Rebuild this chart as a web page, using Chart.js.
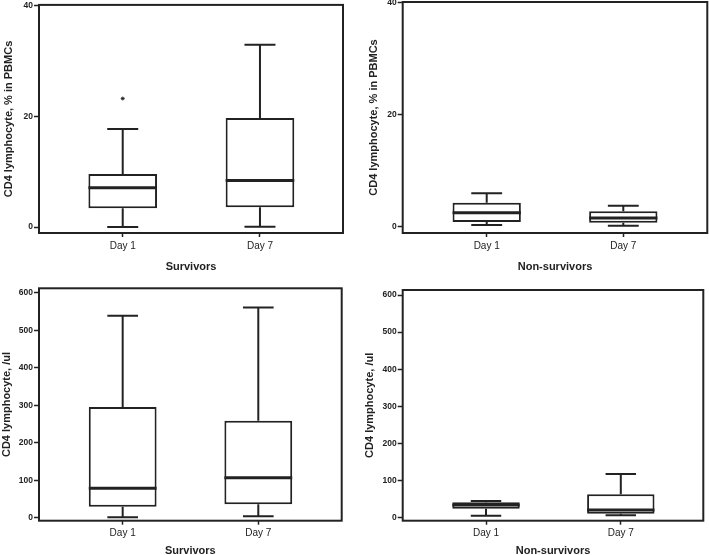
<!DOCTYPE html>
<html><head><meta charset="utf-8">
<script src="https://cdn.jsdelivr.net/npm/chart.js@4.4.1/dist/chart.umd.min.js"></script>
<style>
html,body{margin:0;padding:0;background:#fff;overflow:hidden;width:709px;height:555px;}
.p{position:absolute;}
</style></head><body>
<div class="p" style="left:0px;top:0px;width:350px;height:275px"><canvas id="c1"></canvas></div>
<div class="p" style="left:350px;top:0px;width:359px;height:275px"><canvas id="c2"></canvas></div>
<div class="p" style="left:0px;top:275px;width:350px;height:283px"><canvas id="c3"></canvas></div>
<div class="p" style="left:350px;top:275px;width:359px;height:283px"><canvas id="c4"></canvas></div>
<script>
const categories = ['Day 1', 'Day 7'];
// five-number summaries per category: [min, Q1, median, Q3, max]
const survivorsPctBox = [[0.0, 3.4, 7.1, 9.6, 17.7], [0.05, 3.6, 8.4, 19.7, 32.9]];
const survivorsPctOutliers = [[23.2], []];
const nonSurvivorsPctBox = [[0.36, 0.89, 2.55, 4.3, 6.0], [0.24, 0.77, 1.6, 2.8, 3.8]];
const nonSurvivorsPctOutliers = [[], []];
const survivorsCountBox = [[1.3, 29.6, 78.6, 296, 539], [4, 36, 107, 259, 561]];
const survivorsCountOutliers = [[], []];
const nonSurvivorsCountBox = [[5.4, 24.3, 34.2, 41.4, 45], [6.3, 10.8, 20.7, 63, 117.7]];
const nonSurvivorsCountOutliers = [[], []];
const pctTicks = [0, 20, 40];
const countTicks = [0, 100, 200, 300, 400, 500, 600];

const INK = '#222';
const FONT = "'Liberation Sans', Arial, Helvetica, sans-serif";

function makePanel(id, box, outliers, ticks, yTitle, xTitle, g) {
  const partsPlugin = {
    id: 'boxparts',
    afterDatasetsDraw(chart) {
      const xs = chart.scales.x, ys = chart.scales.y, ctx = chart.ctx;
      ctx.save();
      ctx.strokeStyle = INK;
      box.forEach((b, i) => {
        const cx = xs.getPixelForValue(i);
        const capL = xs.getPixelForValue(i - 0.113), capR = xs.getPixelForValue(i + 0.113);
        const boxL = xs.getPixelForValue(i - 0.25), boxR = xs.getPixelForValue(i + 0.25);
        const mn = ys.getPixelForValue(b[0]), q1 = ys.getPixelForValue(b[1]),
              md = ys.getPixelForValue(b[2]), q3 = ys.getPixelForValue(b[3]),
              mx = ys.getPixelForValue(b[4]);
        ctx.lineWidth = 2;
        ctx.beginPath();
        ctx.moveTo(cx, q1); ctx.lineTo(cx, mn);
        ctx.moveTo(cx, q3); ctx.lineTo(cx, mx);
        ctx.moveTo(capL, mn); ctx.lineTo(capR, mn);
        ctx.moveTo(capL, mx); ctx.lineTo(capR, mx);
        ctx.stroke();
        ctx.lineWidth = 3;
        ctx.beginPath();
        ctx.moveTo(boxL, md); ctx.lineTo(boxR, md);
        ctx.stroke();
      });
      const a = chart.chartArea;
      ctx.lineWidth = 2;
      ctx.strokeRect(a.left, a.top, a.right - a.left, a.bottom - a.top);
      ctx.restore();
    }
  };
  const outlierPts = [];
  outliers.forEach((arr, i) => arr.forEach(v => outlierPts.push({x: i, y: v})));
  return new Chart(document.getElementById(id), {
    type: 'bar',
    data: {
      datasets: [
        {
          type: 'bar',
          data: box.map((b, i) => ({x: i, y: [b[1], b[3]]})),
          backgroundColor: '#fff',
          borderColor: INK,
          borderWidth: 2,
          borderSkipped: false,
          barPercentage: 0.5,
          categoryPercentage: 1
        },
        {
          type: 'scatter',
          data: outlierPts,
          pointStyle: 'star',
          radius: 2,
          borderColor: INK,
          borderWidth: 0.9,
          backgroundColor: INK
        }
      ]
    },
    options: {
      responsive: true,
      maintainAspectRatio: false,
      animation: false,
      devicePixelRatio: 1,
      events: [],
      layout: {padding: {left: 0, top: g.top, right: g.right, bottom: 0}},
      plugins: {legend: {display: false}, tooltip: {enabled: false}},
      scales: {
        x: {
          type: 'linear', min: g.xmin, max: g.xmax, offset: false,
          grid: {display: true, drawOnChartArea: false, drawTicks: true, tickLength: 4,
                 color: INK, tickColor: INK, tickWidth: 1.5, offset: false},
          border: {display: false},
          afterBuildTicks(s) { s.ticks = categories.map((c, i) => ({value: i})); },
          ticks: {callback: (v) => categories[v], font: {family: FONT, size: 10}, color: INK,
                  padding: 3, maxRotation: 0, autoSkip: false},
          title: {display: true, text: xTitle, color: INK,
                  font: {family: FONT, size: 11, weight: 'bold'}, padding: {top: 0, bottom: g.xtpad}},
          afterFit(s) { s.height = g.xh; s.paddingLeft = 0; s.paddingRight = 0; }
        },
        y: {
          type: 'linear', min: g.ymin, max: g.ymax,
          grid: {display: true, drawOnChartArea: false, drawTicks: true, tickLength: 5,
                 color: INK, tickColor: INK, tickWidth: 1.5},
          border: {display: false},
          afterBuildTicks(s) { s.ticks = ticks.map(v => ({value: v})); },
          ticks: {font: {family: FONT, size: 8.5, weight: 'bold'}, color: INK, padding: 1},
          title: {display: true, text: yTitle, color: INK,
                  font: {family: FONT, size: 11, weight: 'bold'}, padding: {top: g.ytpad, bottom: 0}},
          afterFit(s) { s.width = g.yw; s.paddingTop = 0; s.paddingBottom = 0; }
        }
      }
    },
    plugins: [partsPlugin]
  });
}

makePanel('c1', survivorsPctBox, survivorsPctOutliers, pctTicks,
  'CD4 lymphocyte, % in PBMCs', 'Survivors',
  {top: 2, right: 7, yw: 39, xh: 42, xtpad: 1, ytpad: 2, xmin: -0.61, xmax: 1.605, ymin: -1.07, ymax: 40.1});
makePanel('c2', nonSurvivorsPctBox, nonSurvivorsPctOutliers, pctTicks,
  'CD4 lymphocyte, % in PBMCs', 'Non-survivors',
  {top: 2, right: 1.7, yw: 52.7, xh: 42, xtpad: 1, ytpad: 17, xmin: -0.615, xmax: 1.615, ymin: -1.07, ymax: 40.1});
makePanel('c3', survivorsCountBox, survivorsCountOutliers, countTicks,
  'CD4 lymphocyte, /ul', 'Survivors',
  {top: 13.3, right: 8.3, yw: 39, xh: 37.3, xtpad: 0.9, ytpad: 0.7, xmin: -0.617, xmax: 1.615, ymin: -7.7, ymax: 612.5});
makePanel('c4', nonSurvivorsCountBox, nonSurvivorsCountOutliers, countTicks,
  'CD4 lymphocyte, /ul', 'Non-survivors',
  {top: 15, right: 5.7, yw: 52.7, xh: 37.3, xtpad: 0.9, ytpad: 13.4, xmin: -0.618, xmax: 1.612, ymin: -8.1, ymax: 613.5});
</script>
</body></html>
